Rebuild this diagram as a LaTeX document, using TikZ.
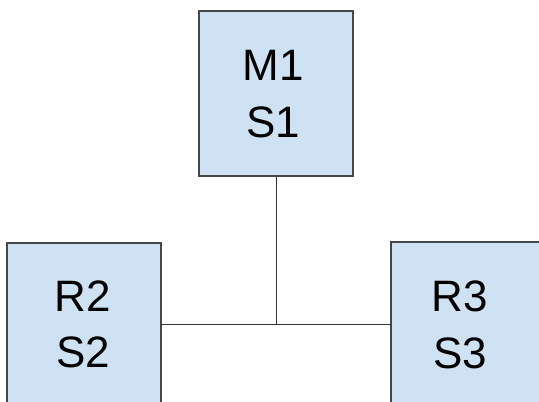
\documentclass[tikz,border=0pt]{standalone}
\usepackage{fontspec}
\setmainfont{Liberation Sans}
\definecolor{boxfill}{HTML}{CFE2F3}
\definecolor{boxline}{HTML}{474747}
\definecolor{wire}{HTML}{333333}
\begin{document}
\begin{tikzpicture}[x=1pt,y=-1pt,
  boxnode/.style={draw=boxline,fill=boxfill,line width=1.1pt,minimum width=154pt,minimum height=165pt,inner sep=0pt},
  lbl/.style={align=center,font=\fontsize{44}{56.5}\selectfont,inner sep=0pt},
  wireline/.style={draw=wire,line width=1pt}]
\useasboundingbox (0,0) rectangle (539,402);
\clip (0,0) rectangle (539,402);
\node[boxnode] (m1box) at (276,93.5) {};
\node[boxnode] (r2box) at (84,325.5) {};
\node[boxnode] (r3box) at (468,324.5) {};
\node[lbl] (m1) at (273,94) {M1\\S1};
\node[lbl] (r2) at (83,324.5) {R2\\S2};
\node[lbl] (r3) at (460,325) {R3\\S3};
\coordinate (j) at (276,324);
\draw[wireline] (m1box.south) -- (j);
\draw[wireline] (r2box.east |- j) -- (r3box.west |- j);
\end{tikzpicture}
\end{document}
